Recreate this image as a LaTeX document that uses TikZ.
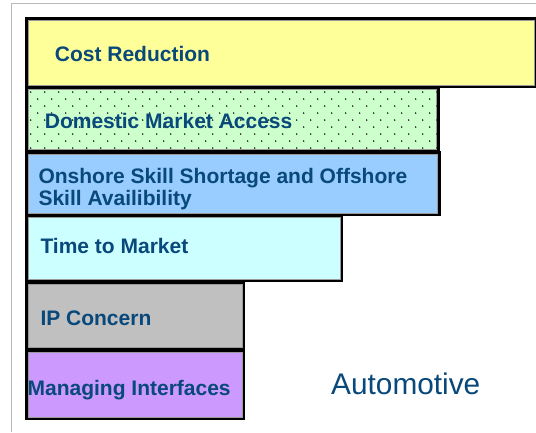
\documentclass[tikz,border=0pt]{standalone}
\usepackage{fontspec}
\setmainfont{Liberation Sans}
\definecolor{txtblue}{RGB}{8,72,122}
\definecolor{cyel}{HTML}{FFFF99}
\definecolor{cgrn}{HTML}{CCFFCC}
\definecolor{cblu}{HTML}{99CCFF}
\definecolor{ccya}{HTML}{CCFFFF}
\definecolor{cgry}{HTML}{C0C0C0}
\definecolor{cpur}{HTML}{CC99FF}
\newcommand\barbox[5]{%
  \fill[black] (#1-3.5,#2-3) rectangle (#3+3,#4+3);
  \fill[#5] (#1,#2) rectangle (#3,#4);
  \draw[gray!80, line width=0.6] (#1,#2) rectangle (#3,#4);
}
\begin{document}
\begin{tikzpicture}[x=1pt,y=-1pt,
  lbl/.style={anchor=base west, inner sep=0pt, text=txtblue,
    font=\fontsize{21}{22.4}\selectfont\bfseries},
  bigl/.style={anchor=base west, inner sep=0pt, text=txtblue,
    font=\fontsize{29.8}{32}\selectfont}]
\useasboundingbox (0,0) rectangle (536,432);
\fill[white] (0,0) rectangle (536,432);
\draw[gray!55, line width=1] (11,432) -- (11,3.5) -- (536,3.5);
% boxes
\fill[black] (24.5,17) rectangle (536,88);
\fill[cyel] (28,20) rectangle (534.5,85);
\draw[gray!80, line width=0.6] (28,20) rectangle (534.5,85);
\barbox{28}{89}{436.5}{149}{cgrn}
\begin{scope}
  \clip (28,89) rectangle (436.5,151);
  \foreach \yy in {92,106,120,134,148}
    \foreach \xx in {30.7,44.7,...,440}
      \fill[black] (\xx,\yy) circle (0.8);
  \foreach \yy in {99,113,127,141}
    \foreach \xx in {23.7,37.7,...,440}
      \fill[black] (\xx,\yy) circle (0.8);
\end{scope}
\barbox{28}{154}{437.5}{213}{cblu}
\barbox{28}{217}{340}{279}{ccya}
\barbox{28}{284}{242}{347}{cgry}
\barbox{28}{352}{242}{417}{cpur}
% labels
\node[lbl] (cost) at (54.7,61) {Cost Reduction};
\node[lbl] (dom) at (44.7,128.5) {Domestic Market Access};
\node[lbl] (onsh1) at (38.3,183.3) {Onshore Skill Shortage and Offshore};
\node[lbl] (onsh2) at (38.3,205.7) {Skill Availibility};
\node[lbl] (ttm) at (40.3,253) {Time to Market};
\node[lbl] (ip) at (40.3,325) {IP Concern};
\node[lbl] (mi) at (27.4,395) {Managing Interfaces};
\node[bigl] (auto) at (331,394) {Automotive};
\end{tikzpicture}
\end{document}
